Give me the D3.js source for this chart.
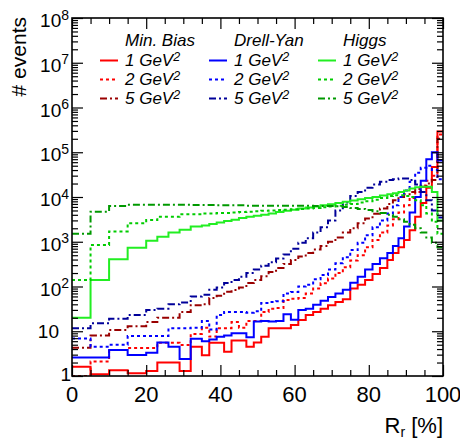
<!DOCTYPE html>
<html><head><meta charset="utf-8">
<script src="https://cdn.jsdelivr.net/npm/d3@7"></script>
<style>body{margin:0;background:#fff}svg{display:block}text{font-family:"Liberation Sans",Arial,sans-serif}</style>
</head><body>
<svg id="c" width="460" height="442"></svg>
<script>
const binEdges = [0,5,10,15,20,23,26,29,32,35,37,39,41,43,45,47,49,51,53,55,57,59,61,63,65,67,69,71,73,75,77,79,81,83,85,86.5,88,89.5,91,92.5,94,95.5,97,98.5,100];

const minBias1 = [1.6,1.1,1.35,1.15,1.3,2.0,2.0,1.3,4.5,2.9,5.5,5.5,3.5,6.2,6.2,4.5,5.6,7.5,11.6,11.6,11.6,13.8,17.8,23,27,32,38,45,52,90,110,140,190,260,390,560,750,1100,1800,3600,7300,16000,47000,290000];
const minBias2 = [1.0,2.1,3.8,4.2,4.2,5.5,5.5,4.9,8.7,12,7.6,11.7,11.7,16,12,17,17,27,32,33,50,53,55,70,90,118,150,200,270,380,500,750,1100,1600,2300,3200,4500,6500,9500,13000,18000,23000,30000,250000];
const minBias5 = [4.3,8,10.7,13,16,20,20,27,38,40,55,62,76,83,95,120,140,170,210,260,320,390,470,560,670,800,1000,1250,1600,2000,2600,3300,4200,5500,7000,8500,10000,11500,13000,15000,17000,20000,24000,200000];
const drellYan1 = [2.6,2.6,3.8,2.95,3.3,5.6,4.5,2.4,6.8,6.0,6.5,7.5,8.0,9.0,9.0,7.3,16.5,17,16.5,17,24,18,30,32,39,48,58,70,85,122,165,240,320,430,560,800,1200,2200,4500,10000,23000,70000,100000,65000];
const drellYan2 = [6.9,4.5,5.0,7.8,7.8,7.8,11.6,11.6,12,17,11,23,27,27,27,26,28,43,45,47,70,75,100,110,145,180,240,330,450,650,950,1400,2100,3000,4300,6500,10000,14000,22000,35000,45000,50000,40000,25000];
const drellYan5 = [11.6,15,19,23,30,32,40,44,60,65,85,95,120,140,165,200,240,290,350,420,520,700,950,1200,1600,2100,3000,5000,7500,10500,13000,16000,19000,22000,24000,25000,26000,26000,24000,19000,13000,8500,5000,3500];
const higgs1 = [20,140,405,730,1050,1300,1600,1850,2200,2300,2500,2700,2900,3100,3400,3600,3800,4000,4300,4600,4900,5200,5500,5800,6100,6500,6900,7300,7800,8300,8900,9500,10000,10800,11500,12200,13000,14000,15500,16500,17000,17000,13000,3000];
const higgs2 = [140,850,1700,2600,3050,3600,3600,4100,4100,4300,4300,4400,4400,4500,4600,4700,4800,4900,5000,5100,5200,5300,5400,5500,5700,5900,6100,6400,6700,7000,7500,8000,8700,9500,10500,11000,11000,10500,10000,8500,6500,4300,2800,1500];
const higgs5 = [1500,4700,6300,6700,6700,6700,6700,6700,6600,6600,6600,6500,6500,6500,6500,6400,6400,6400,6400,6400,6400,6400,6400,6400,6300,6300,6300,6200,6000,5700,5400,5100,4800,4400,4000,3600,3200,2800,2400,2000,1600,1250,950,750];

const groupNames = ["Min. Bias","Drell-Yan","Higgs"];
const cutLabels = ["1","2","5"];
const xTickValues = [0,20,40,60,80,100];
const yDecades = [0,1,2,3,4,5,6,7,8];

const series = [
  {v:minBias1, c:"#ff0000", d:null, g:0, k:0},
  {v:minBias2, c:"#ff0000", d:"3,3", g:0, k:1},
  {v:minBias5, c:"#990000", d:"7,3,2,3", g:0, k:2},
  {v:drellYan1, c:"#0000ff", d:null, g:1, k:0},
  {v:drellYan2, c:"#0000ff", d:"3,3", g:1, k:1},
  {v:drellYan5, c:"#000099", d:"7,3,2,3", g:1, k:2},
  {v:higgs1, c:"#22ee22", d:null, g:2, k:0},
  {v:higgs2, c:"#00cc00", d:"3,3", g:2, k:1},
  {v:higgs5, c:"#009900", d:"7,3,2,3", g:2, k:2}
];

const L=72, R=443, T=18, B=376;
const svg = d3.select("#c");
const x = d3.scaleLinear().domain([0,100]).range([L,R]);
const y = d3.scaleLog().domain([1,1e8]).range([B,T]);

svg.append("defs").append("clipPath").attr("id","clip")
  .append("rect").attr("x",L).attr("y",T).attr("width",R-L).attr("height",B-T);

const line = d3.line().curve(d3.curveStepAfter).x(d=>x(d[0])).y(d=>y(d[1]));
const gH = svg.append("g").attr("clip-path","url(#clip)");
series.forEach(s=>{
  const pts = s.v.map((v,i)=>[binEdges[i],v]);
  pts.push([binEdges[binEdges.length-1], s.v[s.v.length-1]]);
  gH.append("path").attr("d",line(pts)).attr("fill","none")
    .attr("stroke",s.c).attr("stroke-width",2)
    .attr("stroke-dasharray",s.d);
});

// axes
const minorY = [];
for (let k=0;k<8;k++) for (let m=2;m<=9;m++) minorY.push(m*Math.pow(10,k));
const majorY = yDecades.map(k=>Math.pow(10,k));
const xMinor = d3.range(0,101,5).filter(v=>v%20!==0);

function noText(g){ g.selectAll("text").remove(); g.select(".domain").remove(); }
svg.append("g").attr("transform",`translate(${L},0)`).call(d3.axisLeft(y).tickValues(majorY).tickSize(-11)).call(noText);
svg.append("g").attr("transform",`translate(${L},0)`).call(d3.axisLeft(y).tickValues(minorY).tickSize(-6)).call(noText);
svg.append("g").attr("transform",`translate(${R},0)`).call(d3.axisRight(y).tickValues(majorY).tickSize(-11)).call(noText);
svg.append("g").attr("transform",`translate(${R},0)`).call(d3.axisRight(y).tickValues(minorY).tickSize(-6)).call(noText);
svg.append("g").attr("transform",`translate(0,${B})`).call(d3.axisBottom(x).tickValues(xTickValues).tickSize(-11)).call(noText);
svg.append("g").attr("transform",`translate(0,${B})`).call(d3.axisBottom(x).tickValues(xMinor).tickSize(-6)).call(noText);
svg.append("g").attr("transform",`translate(0,${T})`).call(d3.axisTop(x).tickValues(xTickValues).tickSize(-11)).call(noText);
svg.append("g").attr("transform",`translate(0,${T})`).call(d3.axisTop(x).tickValues(xMinor).tickSize(-6)).call(noText);
svg.selectAll(".tick line").attr("stroke","#000").attr("stroke-width",1.2);

svg.append("rect").attr("x",L).attr("y",T).attr("width",R-L).attr("height",B-T)
  .attr("fill","none").attr("stroke","#000").attr("stroke-width",1.6);

// tick labels
xTickValues.forEach(v=>{
  svg.append("text").attr("x",x(v)).attr("y",402).attr("text-anchor","middle")
    .attr("font-size",22).text(v);
});
yDecades.forEach(k=>{
  const yy = y(Math.pow(10,k));
  if (k===0) {
    svg.append("text").attr("x",71).attr("y",yy+5).attr("text-anchor","end").attr("font-size",19).text("1");
  } else if (k===1) {
    svg.append("text").attr("x",59).attr("y",yy+7).attr("text-anchor","end").attr("font-size",19).text("10");
  } else {
    const t = svg.append("text").attr("x",69).attr("y",yy+9).attr("text-anchor","end").attr("font-size",19);
    t.append("tspan").text("10");
    t.append("tspan").attr("font-size",14).attr("dy",-7.5).text(k);
  }
});

// axis titles
const xt = svg.append("text").attr("x",443).attr("y",433).attr("text-anchor","end").attr("font-size",22);
xt.append("tspan").text("R");
xt.append("tspan").attr("font-size",14).attr("dy",4).text("r");
xt.append("tspan").attr("dy",-4).text(" [%]");
svg.append("text").attr("transform","translate(26,17) rotate(-90)").attr("text-anchor","end")
  .attr("font-size",21).text("# events");

// legend
const colX = [125,234,343];
const rowY = [65.5,84.5,103.5];
groupNames.forEach((name,g)=>{
  svg.append("text").attr("x",colX[g]).attr("y",46).attr("font-size",17)
    .attr("font-style","italic").text(name);
});
series.forEach(s=>{
  const tx = colX[s.g], ty = rowY[s.k];
  svg.append("line").attr("x1",tx-25).attr("x2",tx-7).attr("y1",ty-5).attr("y2",ty-5)
    .attr("stroke",s.c).attr("stroke-width",2).attr("stroke-dasharray",s.d);
  const t = svg.append("text").attr("x",tx).attr("y",ty).attr("font-size",17).attr("font-style","italic");
  t.append("tspan").text(cutLabels[s.k]+" GeV");
  t.append("tspan").attr("font-size",12.5).attr("dy",-4.5).text("2");
});
</script>
</body></html>
